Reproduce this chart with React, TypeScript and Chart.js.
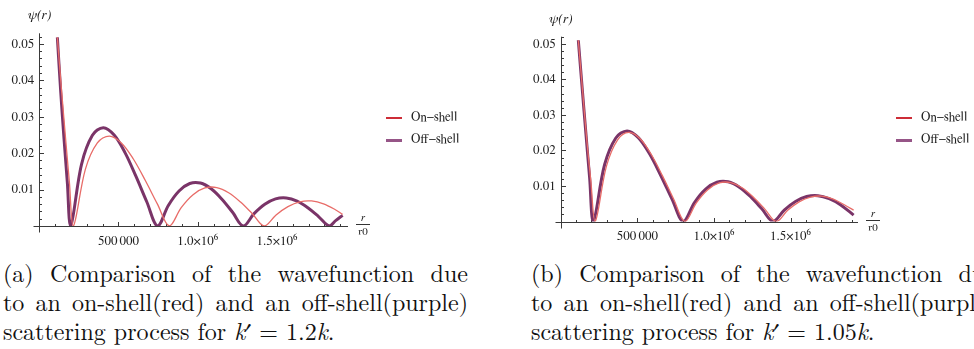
import React, { useEffect, useRef } from 'react';
import { Chart, registerables } from 'chart.js';
Chart.register(...registerables);

// ---------- Panel (a): k' = 1.2k ----------
const rOnA = [114000, 139000, 165000, 190000, 215000, 290750, 366500, 442250, 518000, 593750, 669500, 745250, 821000, 895900, 970800, 1045600, 1120500, 1195400, 1270300, 1345100, 1420000, 1494900, 1569800, 1644600, 1719500, 1794400, 1869300, 1915000];
const psiOnA = [0.0518, 0.038, 0.0245, 0.012, 0, 0.01556, 0.0228, 0.02469, 0.02281, 0.01839, 0.01248, 0.00607, 0, 0.00505, 0.00861, 0.01044, 0.01055, 0.00913, 0.00658, 0.00336, 0, 0.00303, 0.00532, 0.00664, 0.00687, 0.00609, 0.00447, 0.0032];
const rOffA = [114000, 135000, 156000, 177000, 198000, 266600, 335300, 403900, 472500, 541100, 609800, 678400, 747000, 814600, 882300, 949900, 1017500, 1085100, 1152800, 1220400, 1288000, 1355900, 1423800, 1491600, 1559500, 1627400, 1695300, 1763100, 1831000, 1873000, 1915000];
const psiOffA = [0.0518, 0.037, 0.024, 0.012, 0, 0.01694, 0.02489, 0.02699, 0.02497, 0.02015, 0.01368, 0.00666, 0, 0.00564, 0.00962, 0.01167, 0.01179, 0.01022, 0.00736, 0.00376, 0, 0.00339, 0.00596, 0.00743, 0.00769, 0.00681, 0.005, 0.0026, 0, 0.00154, 0.00293];

// ---------- Panel (b): k' = 1.05k ----------
const rOnB = [115000, 142000, 170000, 197000, 225000, 298250, 371500, 444750, 518000, 591250, 664500, 737750, 811000, 885500, 960000, 1034500, 1109000, 1183500, 1258000, 1332500, 1407000, 1481500, 1556000, 1630500, 1705000, 1779500, 1854000, 1912000];
const psiOnB = [0.051, 0.0372, 0.023, 0.0113, 0, 0.01549, 0.02297, 0.02507, 0.0233, 0.01886, 0.01284, 0.00626, 0, 0.00525, 0.00895, 0.01085, 0.01096, 0.00948, 0.00683, 0.00349, 0, 0.00314, 0.00552, 0.00688, 0.00713, 0.00631, 0.00463, 0.0032];
const rOffB = [115000, 140000, 165000, 189000, 213000, 286400, 359800, 433100, 506500, 579900, 653300, 726600, 800000, 873250, 946500, 1019750, 1093000, 1166250, 1239500, 1312750, 1386000, 1459250, 1532500, 1605750, 1679000, 1752250, 1825500, 1912000];
const psiOffB = [0.051, 0.0376, 0.0245, 0.0122, 0, 0.01597, 0.02349, 0.0255, 0.0236, 0.01904, 0.01294, 0.0063, 0, 0.00535, 0.00911, 0.01105, 0.01116, 0.00967, 0.00696, 0.00356, 0, 0.0032, 0.00563, 0.00702, 0.00727, 0.00643, 0.00473, 0.0018];

// ---------- ticks & labels ----------
const yTickVals = [0.01, 0.02, 0.03, 0.04, 0.05];
const yTickLabels = ['0.01', '0.02', '0.03', '0.04', '0.05'];
const xTickVals = [500000, 1000000, 1500000];
const xTickLabels = ['500\u2009000', '1.0\u00d710\u2076', '1.5\u00d710\u2076'];
const yMinorStep = 0.002;
const xMinorStep = 100000;
const seriesNames = ['On\u2212shell', 'Off\u2212shell'];

const ON_COLOR = 'rgb(232,108,104)';
const OFF_COLOR = 'rgb(122,52,104)';
const LEG_ON = 'rgb(205,45,55)';
const LEG_OFF = 'rgb(150,85,135)';
const SERIF = 'FreeSerif, "Latin Modern Roman", serif';
const LATEX = '"Latin Modern Roman", FreeSerif, serif';

const axesPlugin = {
  id: 'mmaAxes',
  beforeDatasetsDraw(chart: any) {
    const { ctx } = chart;
    const x = chart.scales.x;
    const y = chart.scales.y;
    const x0 = Math.round(x.getPixelForValue(0)) + 0.5;
    const y0 = Math.round(y.getPixelForValue(0)) + 0.5;
    ctx.save();
    ctx.strokeStyle = '#3a3a3a';
    ctx.lineWidth = 1;
    ctx.beginPath();
    ctx.moveTo(x0 - 6, y0);
    ctx.lineTo(x.right, y0);
    ctx.moveTo(x0, y.top);
    ctx.lineTo(x0, y0 + 6);
    for (let v = xMinorStep; v <= x.max; v += xMinorStep) {
      const px = Math.round(x.getPixelForValue(v)) + 0.5;
      const major = xTickVals.some((t) => Math.abs(t - v) < 1);
      ctx.moveTo(px, y0);
      ctx.lineTo(px, y0 - (major ? 4.5 : 2.5));
    }
    for (let i = 1; i * yMinorStep <= y.max + 1e-9; i++) {
      const v = i * yMinorStep;
      const py = Math.round(y.getPixelForValue(v)) + 0.5;
      const major = i % 5 === 0;
      ctx.moveTo(x0, py);
      ctx.lineTo(x0 + (major ? 4.5 : 2.5), py);
    }
    ctx.stroke();
    ctx.restore();
  },
};

type PanelProps = {
  rOn: number[]; psiOn: number[]; rOff: number[]; psiOff: number[];
  xMax: number; yMax: number;
  left: number; width: number; height: number;
  axisLeft: number; axisRight: number; axisTop: number; axisBottom: number;
};

function Panel(p: PanelProps) {
  const ref = useRef<HTMLCanvasElement>(null);
  useEffect(() => {
    const chart = new Chart(ref.current as HTMLCanvasElement, {
      type: 'line',
      data: {
        datasets: [
          {
            label: seriesNames[0],
            data: p.rOn.map((r, i) => ({ x: r, y: p.psiOn[i] })),
            borderColor: ON_COLOR,
            borderWidth: 1.3,
            pointRadius: 0,
            tension: 0.35,
            fill: false,
          },
          {
            label: seriesNames[1],
            data: p.rOff.map((r, i) => ({ x: r, y: p.psiOff[i] })),
            borderColor: OFF_COLOR,
            borderWidth: 3,
            pointRadius: 0,
            tension: 0.35,
            fill: false,
          },
        ],
      },
      options: {
        animation: false,
        responsive: false,
        maintainAspectRatio: false,
        events: [],
        layout: {
          padding: { left: 0, right: p.width - p.axisRight, top: p.axisTop, bottom: 0 },
        },
        plugins: { legend: { display: false }, tooltip: { enabled: false } },
        scales: {
          x: {
            type: 'linear',
            min: 0,
            max: p.xMax,
            grid: { display: false, drawTicks: false },
            border: { display: false },
            afterFit: (s: any) => { s.height = p.height - p.axisBottom; },
            afterBuildTicks: (s: any) => { s.ticks = xTickVals.map((v) => ({ value: v })); },
            ticks: {
              padding: 7,
              maxRotation: 0,
              autoSkip: false,
              color: '#222',
              font: { family: SERIF, size: 13 },
              callback: (v: any) => xTickLabels[xTickVals.indexOf(Number(v))] ?? '',
            },
          },
          y: {
            type: 'linear',
            min: 0,
            max: p.yMax,
            grid: { display: false, drawTicks: false },
            border: { display: false },
            afterFit: (s: any) => { s.width = p.axisLeft; },
            afterBuildTicks: (s: any) => { s.ticks = yTickVals.map((v) => ({ value: v })); },
            ticks: {
              padding: 5,
              autoSkip: false,
              color: '#222',
              font: { family: SERIF, size: 13 },
              callback: (v: any) => {
                const i = yTickVals.findIndex((t) => Math.abs(t - Number(v)) < 1e-9);
                return i >= 0 ? yTickLabels[i] : '';
              },
            },
          },
        },
      },
      plugins: [axesPlugin],
    } as any);
    return () => chart.destroy();
  }, []);

  const ax = p.left + p.axisLeft;
  const legX = p.left + p.axisRight + 38;
  return (
    <>
      <canvas
        ref={ref}
        width={p.width}
        height={p.height}
        style={{ position: 'absolute', left: p.left, top: 0, width: p.width, height: p.height }}
      />
      <div style={{ position: 'absolute', left: ax - 20, top: p.axisTop - 26, width: 40, textAlign: 'center', fontFamily: SERIF, fontStyle: 'italic', fontSize: 14, color: '#222', lineHeight: '16px' }}>
        ψ(r)
      </div>
      <div style={{ position: 'absolute', left: p.left + p.axisRight + 8, top: p.axisBottom - 14, width: 14, textAlign: 'center', fontFamily: SERIF, fontSize: 11, color: '#222', lineHeight: '11px' }}>
        <div style={{ fontStyle: 'italic', borderBottom: '1px solid #333', paddingBottom: 1 }}>r</div>
        <div style={{ paddingTop: 1 }}>r0</div>
      </div>
      {[0, 1].map((i) => (
        <div key={i} style={{ position: 'absolute', left: legX, top: 110 + i * 22, height: 16, display: 'flex', alignItems: 'center', whiteSpace: 'nowrap' }}>
          <div style={{ width: 16, height: i === 0 ? 1.5 : 3, background: i === 0 ? LEG_ON : LEG_OFF, marginRight: 9 }} />
          <span style={{ fontFamily: SERIF, fontSize: 13, color: '#222' }}>{seriesNames[i]}</span>
        </div>
      ))}
    </>
  );
}

const LINE_H = 29.2;

function JustLine({ words }: { words: React.ReactNode[] }) {
  return (
    <div style={{ display: 'flex', justifyContent: 'space-between', height: LINE_H, lineHeight: `${LINE_H}px`, whiteSpace: 'nowrap' }}>
      {words.map((w, i) => <span key={i}>{w}</span>)}
    </div>
  );
}

function Caption({ left, tag, kval }: { left: number; tag: string; kval: string }) {
  return (
    <div style={{ position: 'absolute', left, top: 258, width: 465, fontFamily: LATEX, fontSize: 24, color: '#111' }}>
      <JustLine words={[`(${tag})`, 'Comparison', 'of', 'the', 'wavefunction', 'due']} />
      <JustLine words={['to', 'an', 'on-shell(red)', 'and', 'an', 'off-shell(purple)']} />
      <div style={{ height: LINE_H, lineHeight: `${LINE_H}px`, whiteSpace: 'nowrap' }}>
        scattering process for <i>k</i>′ = {kval}<i>k</i>.
      </div>
    </div>
  );
}

export default function App() {
  return (
    <div style={{ position: 'absolute', left: 0, top: 0, width: 974, height: 349, overflow: 'hidden', background: '#fff' }}>
      <Panel
        rOn={rOnA} psiOn={psiOnA} rOff={rOffA} psiOff={psiOffA}
        xMax={1949000} yMax={0.0529}
        left={0} width={480} height={250}
        axisLeft={39.3} axisRight={348} axisTop={33.3} axisBottom={226}
      />
      <Panel
        rOn={rOnB} psiOn={psiOnB} rOff={rOffB} psiOff={psiOffB}
        xMax={1940600} yMax={0.052}
        left={490} width={484} height={250}
        axisLeft={70.7} axisRight={368} axisTop={36.7} axisBottom={221.5}
      />
      <Caption left={3} tag="a" kval="1.2" />
      <Caption left={531} tag="b" kval="1.05" />
    </div>
  );
}
